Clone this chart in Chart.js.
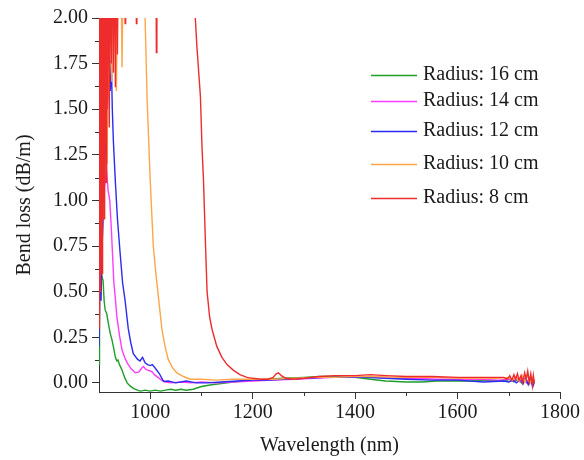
<!DOCTYPE html>
<html>
<head>
<meta charset="utf-8">
<script src="https://cdn.jsdelivr.net/npm/chart.js@4/dist/chart.umd.min.js"></script>
<style>
  html, body { margin: 0; padding: 0; background: #fff; }
  #wrap { width: 584px; height: 460px; }
</style>
</head>
<body>
<div id="wrap"><canvas id="bend-chart" width="584" height="460"></canvas></div>
<script>
// ── 資料 ────────────────────────────────────────────────
const seriesNames = ['Radius: 16 cm', 'Radius: 14 cm', 'Radius: 12 cm', 'Radius: 10 cm', 'Radius: 8 cm'];
const seriesColors = ['#1f9e2a', '#ff3cff', '#2b2bf2', '#ffa54a', '#ee2c2c'];

const xTicks = [1000, 1200, 1400, 1600, 1800];
const xMinor = [1100, 1300, 1500, 1700];
const yTicks = [0, 0.25, 0.5, 0.75, 1.0, 1.25, 1.5, 1.75, 2.0];
const yMinor = [0.125, 0.375, 0.625, 0.875, 1.125, 1.375, 1.625, 1.875];

// 16 cm
const wave16 = [900, 901, 902, 903, 904, 906, 908, 910, 912, 915, 918, 922, 925, 928, 932, 935, 937, 940, 945, 950, 955, 960, 967, 975, 981, 990, 1000, 1010, 1020, 1030, 1040, 1050, 1060, 1070, 1084, 1100, 1120, 1150, 1180, 1200, 1230, 1260, 1300, 1330, 1360, 1400, 1430, 1460, 1500, 1530, 1560, 1600, 1630, 1660, 1690, 1702, 1710, 1718, 1725, 1732, 1738, 1744, 1750];
const loss16 = [0.1, 0.45, 0.7, 0.5, 0.62, 0.58, 0.56, 0.45, 0.40, 0.38, 0.33, 0.27, 0.24, 0.2, 0.14, 0.12, 0.125, 0.1, 0.07, 0.03, 0.0, -0.015, -0.03, -0.04, -0.045, -0.04, -0.045, -0.04, -0.045, -0.04, -0.035, -0.04, -0.035, -0.04, -0.035, -0.02, -0.01, 0.0, 0.01, 0.015, 0.02, 0.025, 0.03, 0.035, 0.035, 0.03, 0.02, 0.01, 0.005, 0.005, 0.01, 0.01, 0.01, 0.015, 0.01, 0.02, 0.005, 0.02, 0.0, 0.025, 0.0, 0.015, 0.005];

// 14 cm
const wave14 = [900, 902, 904, 906, 908, 910, 912, 915, 918, 921, 924, 926, 929, 932, 935, 940, 945, 950, 955, 962, 971, 978, 983, 987, 991, 995, 1000, 1004, 1008, 1015, 1022, 1030, 1040, 1060, 1080, 1100, 1130, 1160, 1200, 1240, 1280, 1320, 1360, 1400, 1440, 1480, 1520, 1560, 1600, 1640, 1680, 1700, 1708, 1716, 1722, 1729, 1735, 1740, 1745, 1750];
const loss14 = [0.3, 0.9, 0.6, 1.1, 0.95, 1.2, 1.1, 1.15, 1.05, 1.0, 0.85, 0.73, 0.55, 0.46, 0.36, 0.26, 0.18, 0.14, 0.11, 0.08, 0.055, 0.06, 0.08, 0.09, 0.075, 0.07, 0.065, 0.06, 0.045, 0.03, 0.015, 0.005, 0.0, 0.005, 0.0, 0.005, 0.0, 0.005, 0.01, 0.015, 0.02, 0.025, 0.03, 0.03, 0.03, 0.025, 0.025, 0.02, 0.02, 0.02, 0.015, 0.02, 0.01, 0.025, 0.005, 0.03, 0.0, 0.025, -0.005, 0.015];

// 12 cm
const wave12 = [900, 902, 904, 906, 908, 911, 914, 917, 920, 922, 924, 926, 928, 932, 936, 941, 946, 951, 957, 962, 967, 975, 980, 985, 990, 995, 1000, 1004, 1010, 1018, 1026, 1035, 1050, 1070, 1090, 1110, 1140, 1170, 1200, 1230, 1260, 1300, 1340, 1380, 1420, 1460, 1500, 1550, 1600, 1650, 1690, 1700, 1708, 1715, 1722, 1728, 1733, 1738, 1743, 1747, 1750];
const loss12 = [0.2, 0.6, 0.45, 0.75, 0.9, 1.2, 1.35, 1.55, 1.7, 1.6, 1.77, 1.5, 1.33, 1.1, 0.9, 0.72, 0.55, 0.45, 0.3, 0.22, 0.16, 0.13, 0.12, 0.14, 0.11, 0.1, 0.095, 0.1, 0.08, 0.05, 0.008, 0.01, 0.0, 0.01, 0.0, 0.0, 0.005, 0.01, 0.015, 0.015, 0.02, 0.025, 0.03, 0.03, 0.03, 0.025, 0.02, 0.015, 0.015, 0.005, 0.01, 0.005, 0.015, 0.0, 0.02, -0.005, 0.025, -0.01, 0.02, -0.02, 0.005];

// 10 cm
const wave10 = [900, 902, 904, 906, 908, 910, 912, 914, 916, 918, 920, 922, 925, 928, 931, 934, 938, 942, 945, 948, 955, 965, 975, 985, 990, 994, 1000, 1006, 1011, 1016, 1023, 1029, 1035, 1043, 1052, 1065, 1078, 1100, 1130, 1160, 1200, 1240, 1280, 1320, 1360, 1400, 1440, 1480, 1520, 1560, 1600, 1640, 1680, 1700, 1707, 1714, 1720, 1726, 1732, 1737, 1742, 1746, 1750];
const loss10 = [0.5, 2.5, 1.1, 2.5, 0.9, 2.5, 1.4, 2.5, 1.2, 2.5, 1.57, 2.5, 1.65, 2.5, 2.5, 1.6, 2.5, 2.5, 1.73, 2.5, 2.5, 2.5, 2.5, 2.5, 2.0, 1.55, 1.11, 0.75, 0.6, 0.47, 0.29, 0.2, 0.13, 0.085, 0.055, 0.035, 0.02, 0.02, 0.015, 0.02, 0.02, 0.02, 0.025, 0.03, 0.03, 0.035, 0.035, 0.03, 0.03, 0.03, 0.025, 0.025, 0.025, 0.03, 0.015, 0.035, 0.01, 0.04, 0.005, 0.045, 0.0, 0.03, 0.01];

// 8 cm
const wave8 = [900, 901, 902, 903, 904, 905, 906, 907, 908, 909, 910, 911, 912, 913, 914, 915, 916, 918, 920, 922, 924, 926, 928, 930, 932, 934, 936, 938, 950, 951, 952, 972, 973, 974, 1011, 1012, 1013, 1086, 1088, 1091, 1094, 1098, 1101, 1104, 1108, 1111, 1116, 1121, 1130, 1140, 1150, 1162, 1175, 1189, 1200, 1215, 1230, 1240, 1246, 1250, 1256, 1265, 1280, 1300, 1330, 1360, 1400, 1430, 1460, 1500, 1550, 1600, 1650, 1690, 1697, 1702, 1706, 1710, 1713, 1717, 1720, 1724, 1727, 1731, 1734, 1737, 1740, 1743, 1746, 1748, 1750];
const loss8 = [0.3, 2.5, 0.5, 2.5, 0.7, 2.5, 0.6, 2.5, 1.0, 2.5, 0.9, 2.5, 1.3, 2.5, 1.1, 2.5, 1.5, 2.5, 1.4, 2.5, 1.75, 2.5, 1.7, 2.5, 1.62, 2.5, 1.8, 2.5, 2.5, 1.97, 2.5, 2.5, 1.97, 2.5, 2.5, 1.81, 2.5, 2.5, 2.0, 1.85, 1.73, 1.57, 1.3, 1.11, 0.75, 0.5, 0.36, 0.29, 0.2, 0.14, 0.1, 0.07, 0.045, 0.03, 0.025, 0.02, 0.02, 0.03, 0.05, 0.055, 0.04, 0.025, 0.02, 0.025, 0.035, 0.04, 0.04, 0.045, 0.04, 0.035, 0.035, 0.03, 0.03, 0.03, 0.02, 0.04, 0.015, 0.045, 0.02, 0.05, 0.015, 0.04, 0.0, 0.055, 0.02, 0.065, 0.005, 0.05, -0.015, 0.04, 0.0];

const waves  = [wave16, wave14, wave12, wave10, wave8];
const losses = [loss16, loss14, loss12, loss10, loss8];

// ── 字型 ────────────────────────────────────────────────
Chart.defaults.font.family = '"Liberation Serif", "Times New Roman", serif';
Chart.defaults.font.size = 20;
Chart.defaults.color = '#1a1a1a';

// ── 副刻度 ──────────────────────────────────────────────
const minorTicks = {
  id: 'minorTicks',
  afterDraw(chart) {
    const { ctx, chartArea, scales } = chart;
    ctx.save();
    ctx.strokeStyle = '#333';
    ctx.lineWidth = 1;
    ctx.beginPath();
    xMinor.forEach(v => {
      const px = Math.round(scales.x.getPixelForValue(v)) + 0.5;
      ctx.moveTo(px, chartArea.bottom);
      ctx.lineTo(px, chartArea.bottom + 4);
    });
    yMinor.forEach(v => {
      const py = Math.round(scales.y.getPixelForValue(v)) + 0.5;
      ctx.moveTo(chartArea.left - 4, py);
      ctx.lineTo(chartArea.left, py);
    });
    ctx.stroke();
    ctx.restore();
  }
};

// ── 圖例 ────────────────────────────────────────────────
const legendRows = [75, 101, 131, 164, 198];
const sideLegend = {
  id: 'sideLegend',
  afterDraw(chart) {
    const { ctx } = chart;
    ctx.save();
    ctx.font = '20px "Liberation Serif", "Times New Roman", serif';
    ctx.textBaseline = 'middle';
    ctx.textAlign = 'left';
    seriesNames.forEach((name, i) => {
      const y = legendRows[i];
      ctx.strokeStyle = seriesColors[i];
      ctx.lineWidth = 1.4;
      ctx.beginPath();
      ctx.moveTo(371, y + 0.5);
      ctx.lineTo(417, y + 0.5);
      ctx.stroke();
      ctx.fillStyle = '#1a1a1a';
      ctx.fillText(name, 423, y);
    });
    ctx.restore();
  }
};

// ── 圖表 ────────────────────────────────────────────────
const drawOrder = [4, 3, 2, 1, 0]; // 8 cm 在最上層
const datasets = seriesNames.map((name, i) => ({
  label: name,
  data: waves[i].map((w, k) => ({ x: w, y: losses[i][k] })),
  borderColor: seriesColors[i],
  borderWidth: 1.4,
  pointRadius: 0,
  tension: 0,
  fill: false,
  order: drawOrder[i]
}));

new Chart(document.getElementById('bend-chart'), {
  type: 'line',
  data: { datasets },
  options: {
    responsive: false,
    animation: false,
    layout: { padding: { top: 18, right: 24, left: 0, bottom: 0 } },
    plugins: {
      legend: { display: false },
      tooltip: { enabled: false }
    },
    scales: {
      x: {
        type: 'linear',
        min: 900,
        max: 1800,
        afterBuildTicks: s => { s.ticks = xTicks.map(v => ({ value: v })); },
        afterFit: s => { s.height = 68; },
        ticks: { callback: v => String(v), padding: 2, maxRotation: 0 },
        grid: { drawOnChartArea: false, drawTicks: true, tickLength: 7, tickColor: '#333' },
        border: { display: true, color: '#333', width: 1 },
        title: { display: true, text: 'Wavelength (nm)', padding: { top: 0, bottom: 2 } }
      },
      y: {
        min: -0.05,
        max: 2.0,
        afterBuildTicks: s => { s.ticks = yTicks.map(v => ({ value: v })); },
        afterFit: s => { s.width = 99; },
        ticks: { callback: v => Number(v).toFixed(2), padding: 4 },
        grid: { drawOnChartArea: false, drawTicks: true, tickLength: 7, tickColor: '#333' },
        border: { display: true, color: '#333', width: 1 },
        title: { display: true, text: 'Bend loss (dB/m)', padding: { top: 13, bottom: 0 } }
      }
    }
  },
  plugins: [minorTicks, sideLegend]
});
</script>
</body>
</html>
